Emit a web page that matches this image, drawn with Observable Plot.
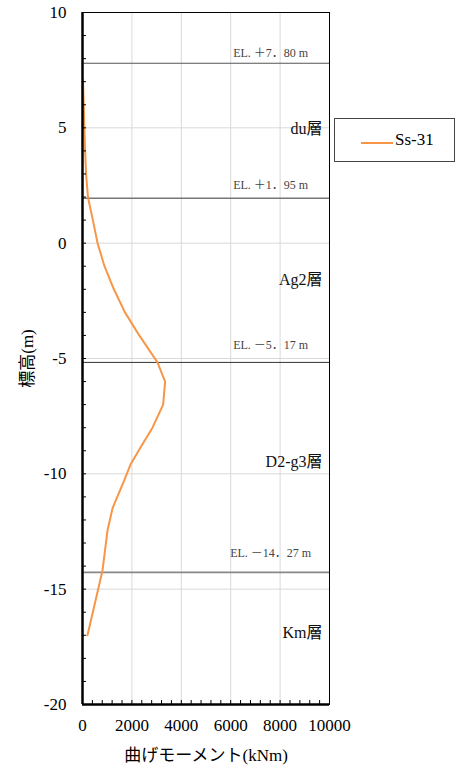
<!DOCTYPE html>
<html>
<head>
<meta charset="utf-8">
<script src="https://cdn.jsdelivr.net/npm/d3@7"></script>
<script src="https://cdn.jsdelivr.net/npm/@observablehq/plot@0.6"></script>
<style>
  html, body { margin: 0; padding: 0; background: #fff; }
  #wrap { position: relative; width: 459px; height: 769px; }
  #legend { position: absolute; left: 334px; top: 118px; width: 121px; height: 44px;
    border: 1px solid #444; box-sizing: border-box; background: #fff;
    font-family: "Liberation Serif", "Times New Roman", serif; font-size: 17px; }
  #legend svg { position: absolute; left: 0; top: 0; }
  #legend span { position: absolute; left: 60px; top: 11px; }
</style>
</head>
<body>
<div id="wrap"></div>
<script>
// Curve: Ss-31 bending moment (kNm) vs elevation (m)
const elevation = [7.1, 6.5, 6.0, 5.0, 4.0, 3.0, 2.0, 1.0, 0.0, -1.0, -2.0, -3.0, -4.0, -5.0, -5.17, -6.0, -7.0, -8.0, -8.84, -9.57, -10.29, -11.15, -11.5, -12.46, -14.19, -17.0];
const moment    = [20, 35, 50, 75, 105, 145, 220, 420, 610, 890, 1270, 1720, 2300, 2930, 3035, 3345, 3265, 2834, 2360, 1955, 1685, 1348, 1214, 1012, 810, 202];
const seriesName = "Ss-31";

// Layer boundaries
const boundaryEL = [7.80, 1.95, -5.17, -14.27];
const boundaryText = ["EL. ＋7．80 m", "EL. ＋1．95 m", "EL. －5．17 m", "EL. －14．27 m"];
const boundaryTextY = [8.22, 2.5, -4.4, -13.42];
const boundaryColor = ["#555", "#777", "#333", "#888"];
const boundaryWidth = [1.2, 1.6, 1.0, 1.6];

// Layer names
const layerNames = ["du層", "Ag2層", "D2-g3層", "Km層"];
const layerY = [4.97, -1.57, -9.5, -16.9];

// Axes
const xTicks = [0, 2000, 4000, 6000, 8000, 10000];
const yTicks = [10, 5, 0, -5, -10, -15, -20];
const xGrid = [2000, 4000, 6000, 8000];
const yGrid = [5, 0, -5, -10, -15];
const xMinor = d3.range(0, 10001, 400);
const yMinor = d3.range(-20, 11, 1);

const curve = elevation.map((e, i) => ({el: e, m: moment[i]}));
const bounds = boundaryEL.map((e, i) => ({el: e, text: boundaryText[i], ty: boundaryTextY[i], c: boundaryColor[i], w: boundaryWidth[i]}));
const layers = layerNames.map((n, i) => ({name: n, y: layerY[i]}));

const serif = "'Liberation Serif', 'Times New Roman', 'Noto Sans CJK JP', serif";

const chart = Plot.plot({
  width: 459,
  height: 769,
  marginLeft: 82,
  marginRight: 130,
  marginTop: 12,
  marginBottom: 65,
  style: {fontFamily: serif, fontSize: "17px", color: "#000", background: "#fff", overflow: "visible"},
  x: {domain: [0, 10000]},
  y: {domain: [-20, 10]},
  marks: [
    Plot.ruleX(xGrid, {stroke: "#d9d9d9", strokeWidth: 1}),
    Plot.ruleY(yGrid, {stroke: "#d9d9d9", strokeWidth: 1}),
    Plot.ruleY(bounds, {y: "el", stroke: "c", strokeWidth: "w"}),
    Plot.text(bounds, {x: 7620, y: "ty", text: "text", fill: "#444", fontSize: 12, fontFamily: serif, textAnchor: "middle"}),
    Plot.text(layers, {y: "y", text: "name", frameAnchor: "right", dx: -7, textAnchor: "end", fontSize: 16, fontFamily: serif, fill: "#111"}),
    Plot.line(curve, {x: "m", y: "el", stroke: "#F79646", strokeWidth: 2, curve: "linear"}),
    Plot.frame({stroke: "#000", strokeWidth: 1}),
    Plot.axisY(yMinor, {anchor: "left", tickSize: 4, dx: 4, text: null, stroke: "#000", strokeWidth: 1, label: null}),
    Plot.axisX(xMinor, {anchor: "bottom", tickSize: 4, dy: -4, text: null, stroke: "#000", strokeWidth: 1, label: null}),
    Plot.axisY(yTicks, {tickSize: 0, tickPadding: 16, fontSize: 17, fontFamily: serif, tickFormat: d => String(d),
      label: "標高(m)", labelAnchor: "center", labelOffset: 62, labelArrow: "none"}),
    Plot.axisX(xTicks, {tickSize: 0, tickPadding: 14, fontSize: 17, fontFamily: serif, tickFormat: d => String(d),
      label: "曲げモーメント(kNm)", labelAnchor: "center", labelOffset: 56, labelArrow: "none"}),
    Plot.ruleX([0], {stroke: "#000", strokeWidth: 2.5}),
    Plot.ruleY([-20], {stroke: "#000", strokeWidth: 2.5})
  ]
});

const wrap = document.getElementById("wrap");
wrap.appendChild(chart);

// Legend (HTML, placed over the chart's right margin)
const leg = document.createElement("div");
leg.id = "legend";
const lsvg = d3.create("svg").attr("width", 121).attr("height", 44);
lsvg.append("line").attr("x1", 26).attr("x2", 58).attr("y1", 24).attr("y2", 24)
  .attr("stroke", "#F79646").attr("stroke-width", 2);
leg.appendChild(lsvg.node());
const sp = document.createElement("span");
sp.textContent = seriesName;
leg.appendChild(sp);
wrap.appendChild(leg);
</script>
</body>
</html>
